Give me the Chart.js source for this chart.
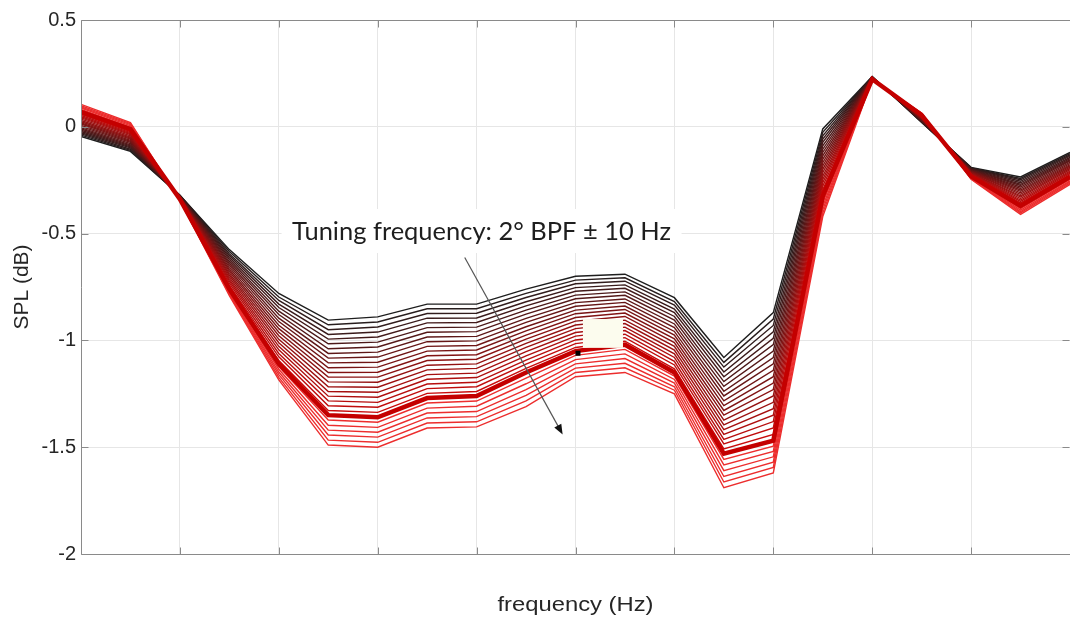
<!DOCTYPE html>
<html lang="en">
<head>
<meta charset="UTF-8">
<title>SPL vs frequency - tuning sweep</title>
<script src="https://cdn.jsdelivr.net/npm/chart.js"></script>
<style>
  html, body { margin: 0; padding: 0; background: #fff; }
  .chart-box { width: 1070px; height: 619px; }
</style>
</head>
<body>
<div class="chart-box"><canvas id="splChart"></canvas></div>
<script>
// x positions of the frequency bins (the axis shows no labels)
const freqBins = [0, 1, 2, 3, 4, 5, 6, 7, 8, 9, 10, 11, 12, 13, 14, 15, 16, 17, 18, 19, 20];
const yTicks = [0.5, 0, -0.5, -1, -1.5, -2];
const nominalCurve = 20; // the thick red one

// SPL (dB) in each frequency bin, one value per tuning step:
// first value = top black curve, last value = bottom red curve
const f00 = [-0.045,-0.039,-0.033,-0.028,-0.022,-0.016,-0.010,-0.005,0.001,0.007,0.013,0.018,0.024,0.030,0.036,0.042,0.047,0.053,0.059,0.065,0.070,0.076,0.082,0.088,0.093,0.099,0.105];
const f01 = [-0.115,-0.110,-0.105,-0.099,-0.094,-0.089,-0.084,-0.079,-0.073,-0.068,-0.063,-0.058,-0.053,-0.048,-0.042,-0.037,-0.032,-0.027,-0.022,-0.016,-0.011,-0.006,-0.001,0.004,0.010,0.015,0.020];
const f02 = [-0.320,-0.321,-0.322,-0.323,-0.324,-0.325,-0.326,-0.327,-0.328,-0.329,-0.330,-0.331,-0.332,-0.333,-0.333,-0.334,-0.335,-0.336,-0.337,-0.338,-0.339,-0.340,-0.341,-0.342,-0.343,-0.344,-0.345];
const f03 = [-0.575,-0.584,-0.594,-0.603,-0.612,-0.621,-0.631,-0.640,-0.649,-0.658,-0.668,-0.677,-0.686,-0.695,-0.705,-0.714,-0.723,-0.732,-0.742,-0.751,-0.760,-0.765,-0.770,-0.775,-0.780,-0.785,-0.790];
const f04 = [-0.780,-0.797,-0.813,-0.830,-0.846,-0.863,-0.879,-0.896,-0.912,-0.929,-0.945,-0.962,-0.978,-0.995,-1.011,-1.028,-1.044,-1.061,-1.077,-1.094,-1.110,-1.123,-1.135,-1.148,-1.160,-1.173,-1.185];
const f05 = [-0.905,-0.927,-0.950,-0.972,-0.994,-1.016,-1.039,-1.061,-1.083,-1.105,-1.128,-1.150,-1.172,-1.194,-1.217,-1.239,-1.261,-1.283,-1.306,-1.328,-1.350,-1.373,-1.397,-1.420,-1.443,-1.467,-1.490];
const f06 = [-0.890,-0.914,-0.937,-0.961,-0.984,-1.008,-1.031,-1.055,-1.078,-1.102,-1.125,-1.149,-1.172,-1.196,-1.219,-1.243,-1.266,-1.290,-1.313,-1.337,-1.360,-1.383,-1.407,-1.430,-1.453,-1.477,-1.500];
const f07 = [-0.830,-0.852,-0.874,-0.896,-0.918,-0.940,-0.962,-0.984,-1.006,-1.028,-1.050,-1.072,-1.094,-1.116,-1.138,-1.160,-1.182,-1.204,-1.226,-1.248,-1.270,-1.293,-1.317,-1.340,-1.363,-1.387,-1.410];
const f08 = [-0.830,-0.852,-0.873,-0.895,-0.916,-0.938,-0.959,-0.981,-1.002,-1.024,-1.045,-1.067,-1.088,-1.110,-1.131,-1.153,-1.174,-1.196,-1.217,-1.239,-1.260,-1.284,-1.308,-1.333,-1.357,-1.381,-1.405];
const f09 = [-0.760,-0.780,-0.799,-0.819,-0.838,-0.858,-0.877,-0.897,-0.916,-0.936,-0.955,-0.975,-0.994,-1.014,-1.033,-1.053,-1.072,-1.092,-1.111,-1.131,-1.150,-1.177,-1.203,-1.230,-1.257,-1.283,-1.310];
const f10 = [-0.700,-0.718,-0.735,-0.753,-0.770,-0.788,-0.805,-0.823,-0.840,-0.858,-0.875,-0.893,-0.910,-0.928,-0.945,-0.963,-0.980,-0.998,-1.015,-1.033,-1.050,-1.070,-1.090,-1.110,-1.130,-1.150,-1.170];
const f11 = [-0.690,-0.707,-0.723,-0.740,-0.756,-0.773,-0.789,-0.806,-0.822,-0.839,-0.855,-0.872,-0.888,-0.905,-0.921,-0.938,-0.954,-0.971,-0.987,-1.004,-1.020,-1.042,-1.063,-1.085,-1.107,-1.128,-1.150];
const f12 = [-0.800,-0.818,-0.835,-0.853,-0.870,-0.888,-0.905,-0.923,-0.940,-0.958,-0.975,-0.993,-1.010,-1.028,-1.045,-1.063,-1.080,-1.098,-1.115,-1.133,-1.150,-1.167,-1.183,-1.200,-1.217,-1.233,-1.250];
const f13 = [-1.080,-1.103,-1.125,-1.148,-1.170,-1.193,-1.215,-1.238,-1.260,-1.283,-1.305,-1.328,-1.350,-1.373,-1.395,-1.418,-1.440,-1.463,-1.485,-1.508,-1.530,-1.557,-1.583,-1.610,-1.637,-1.663,-1.690];
const f14 = [-0.870,-0.900,-0.930,-0.960,-0.990,-1.020,-1.050,-1.080,-1.110,-1.140,-1.170,-1.200,-1.230,-1.260,-1.290,-1.320,-1.350,-1.380,-1.410,-1.440,-1.470,-1.495,-1.520,-1.545,-1.570,-1.595,-1.620];
const f15 = [-0.010,-0.026,-0.042,-0.057,-0.073,-0.089,-0.105,-0.120,-0.136,-0.152,-0.168,-0.183,-0.199,-0.215,-0.231,-0.247,-0.262,-0.278,-0.294,-0.310,-0.325,-0.341,-0.357,-0.373,-0.388,-0.404,-0.420];
const f16 = [0.235,0.234,0.234,0.233,0.233,0.232,0.232,0.231,0.230,0.230,0.229,0.229,0.228,0.228,0.227,0.226,0.226,0.225,0.225,0.224,0.223,0.223,0.222,0.222,0.221,0.221,0.220];
const f17 = [0.020,0.022,0.023,0.025,0.027,0.029,0.030,0.032,0.034,0.036,0.037,0.039,0.041,0.043,0.044,0.046,0.048,0.049,0.051,0.053,0.055,0.056,0.058,0.060,0.062,0.063,0.065];
const f18 = [-0.190,-0.192,-0.194,-0.196,-0.198,-0.201,-0.203,-0.205,-0.207,-0.209,-0.211,-0.213,-0.215,-0.218,-0.220,-0.222,-0.224,-0.226,-0.228,-0.230,-0.232,-0.234,-0.237,-0.239,-0.241,-0.243,-0.245];
const f19 = [-0.235,-0.242,-0.248,-0.255,-0.262,-0.269,-0.275,-0.282,-0.289,-0.296,-0.302,-0.309,-0.316,-0.323,-0.329,-0.336,-0.343,-0.349,-0.356,-0.363,-0.370,-0.376,-0.383,-0.390,-0.397,-0.403,-0.410];
const f20 = [-0.120,-0.126,-0.132,-0.137,-0.143,-0.149,-0.155,-0.160,-0.166,-0.172,-0.178,-0.183,-0.189,-0.195,-0.201,-0.207,-0.212,-0.218,-0.224,-0.230,-0.235,-0.241,-0.247,-0.253,-0.258,-0.264,-0.270];

const splBins = [f00, f01, f02, f03, f04, f05, f06, f07, f08, f09, f10,
                 f11, f12, f13, f14, f15, f16, f17, f18, f19, f20];

const annotationText = 'Tuning frequency: 2° BPF ± 10 Hz';

// black -> red going down the sweep, lighter red below the nominal curve
function curveColor(k) {
    if (k === nominalCurve) return 'rgb(196,0,0)';
    if (k > nominalCurve) return 'rgb(236,45,45)';
    const t = k / nominalCurve;
    const r = Math.round(30 + (210 - 30) * t);
    const g = Math.round(30 * (1 - t) + 10 * t);
    const b = Math.round(30 * (1 - t) + 10 * t);
    return `rgb(${r},${g},${b})`;
}

const curveCount = f00.length;
const datasets = [];
for (let k = 0; k < curveCount; k++) {
    datasets.push({
        data: splBins.map((col, i) => ({ x: freqBins[i], y: col[k] })),
        borderColor: curveColor(k),
        borderWidth: k === nominalCurve ? 4.5 : 1.4,
        pointRadius: 0,
        tension: 0,
        order: k === nominalCurve ? 0 : curveCount - k
    });
}

// draw text squeezed/stretched to a given width (the original figure was stretched)
function fitText(ctx, text, x, y, width, rotate) {
    const w = ctx.measureText(text).width;
    ctx.save();
    ctx.translate(x, y);
    if (rotate) ctx.rotate(-Math.PI / 2);
    ctx.scale(width / w, 1);
    ctx.fillText(text, 0, 0);
    ctx.restore();
}

// box, inward ticks, axis titles and the pasted-in annotation
const figurePlugin = {
    id: 'figureExtras',
    afterDatasetsDraw(chart) {
        const ctx = chart.ctx;
        const xs = chart.scales.x, ys = chart.scales.y;
        ctx.save();

        // little cream box + black dot near the nominal curve
        const rx0 = xs.getPixelForValue(10.15), rx1 = xs.getPixelForValue(10.96);
        const ry0 = ys.getPixelForValue(-0.90), ry1 = ys.getPixelForValue(-1.035);
        ctx.fillStyle = '#fcfcee';
        ctx.fillRect(rx0, ry0, rx1 - rx0, ry1 - ry0);
        ctx.fillStyle = '#000';
        ctx.fillRect(xs.getPixelForValue(10.05) - 2.5, ys.getPixelForValue(-1.06) - 2.5, 5, 5);

        // text label on white background
        const tx = xs.getPixelForValue(8.1), ty = ys.getPixelForValue(-0.4925);
        ctx.fillStyle = '#fff';
        ctx.fillRect(tx - 200, ty - 23, 400, 44);
        ctx.font = '25px Lato';
        ctx.fillStyle = '#1e1e1e';
        ctx.textAlign = 'center';
        ctx.textBaseline = 'middle';
        fitText(ctx, annotationText, tx, ty, 379, false);

        // arrow
        const ax0 = xs.getPixelForValue(7.76), ay0 = ys.getPixelForValue(-0.612);
        const ax1 = xs.getPixelForValue(9.74), ay1 = ys.getPixelForValue(-1.44);
        const ang = Math.atan2(ay1 - ay0, ax1 - ax0);
        ctx.strokeStyle = '#555';
        ctx.lineWidth = 1.2;
        ctx.beginPath();
        ctx.moveTo(ax0, ay0);
        ctx.lineTo(ax1 - 8 * Math.cos(ang), ay1 - 8 * Math.sin(ang));
        ctx.stroke();
        ctx.fillStyle = '#111';
        ctx.beginPath();
        ctx.moveTo(ax1, ay1);
        ctx.lineTo(ax1 - 10 * Math.cos(ang) + 4 * Math.sin(ang), ay1 - 10 * Math.sin(ang) - 4 * Math.cos(ang));
        ctx.lineTo(ax1 - 10 * Math.cos(ang) - 4 * Math.sin(ang), ay1 - 10 * Math.sin(ang) + 4 * Math.cos(ang));
        ctx.closePath();
        ctx.fill();
        ctx.restore();
    },
    afterDraw(chart) {
        const ctx = chart.ctx;
        const a = chart.chartArea;
        const xs = chart.scales.x, ys = chart.scales.y;
        ctx.save();
        ctx.strokeStyle = '#8a8a8a';
        ctx.lineWidth = 1;
        const L = Math.round(a.left) + 0.5, T = Math.round(a.top) + 0.5;
        const B = Math.round(a.bottom) + 0.5, R = Math.round(a.right) - 0.5;
        ctx.beginPath();
        ctx.moveTo(L, T); ctx.lineTo(R + 2, T);
        ctx.moveTo(L, T); ctx.lineTo(L, B);
        ctx.moveTo(L, B); ctx.lineTo(R + 2, B);
        // inward tick marks
        yTicks.forEach(v => {
            const y = Math.round(ys.getPixelForValue(v)) + 0.5;
            ctx.moveTo(L, y); ctx.lineTo(L + 7, y);
            ctx.moveTo(R, y); ctx.lineTo(R - 7, y);
        });
        for (let v = 2; v < 20; v += 2) {
            const x = Math.round(xs.getPixelForValue(v)) + 0.5;
            ctx.moveTo(x, B); ctx.lineTo(x, B - 7);
            ctx.moveTo(x, T); ctx.lineTo(x, T + 7);
        }
        ctx.stroke();

        // axis titles
        ctx.fillStyle = '#262626';
        ctx.font = '20px "Liberation Sans"';
        ctx.textAlign = 'center';
        ctx.textBaseline = 'middle';
        fitText(ctx, 'frequency (Hz)', (a.left + a.right) / 2, 605, 156, false);
        fitText(ctx, 'SPL (dB)', 22, (a.top + a.bottom) / 2, 85, true);
        ctx.restore();
    }
};

new Chart(document.getElementById('splChart'), {
    type: 'line',
    data: { datasets: datasets },
    options: {
        responsive: true,
        maintainAspectRatio: false,
        animation: false,
        layout: { padding: { top: 20, right: 0, bottom: 0, left: 0 } },
        plugins: { legend: { display: false }, tooltip: { enabled: false } },
        scales: {
            x: {
                type: 'linear',
                min: 0,
                max: 20,
                ticks: { stepSize: 2, display: false },
                grid: { color: '#e6e6e6', drawTicks: false },
                border: { display: false },
                afterFit: s => { s.height = 65; }
            },
            y: {
                min: -2,
                max: 0.5,
                ticks: {
                    stepSize: 0.5,
                    padding: 5,
                    color: '#262626',
                    font: { family: 'Liberation Sans', size: 20 },
                    callback: v => yTicks.includes(v) ? String(v) : ''
                },
                grid: { color: '#e6e6e6', drawTicks: false },
                border: { display: false },
                afterFit: s => { s.width = 81; }
            }
        }
    },
    plugins: [figurePlugin]
});
</script>
</body>
</html>
